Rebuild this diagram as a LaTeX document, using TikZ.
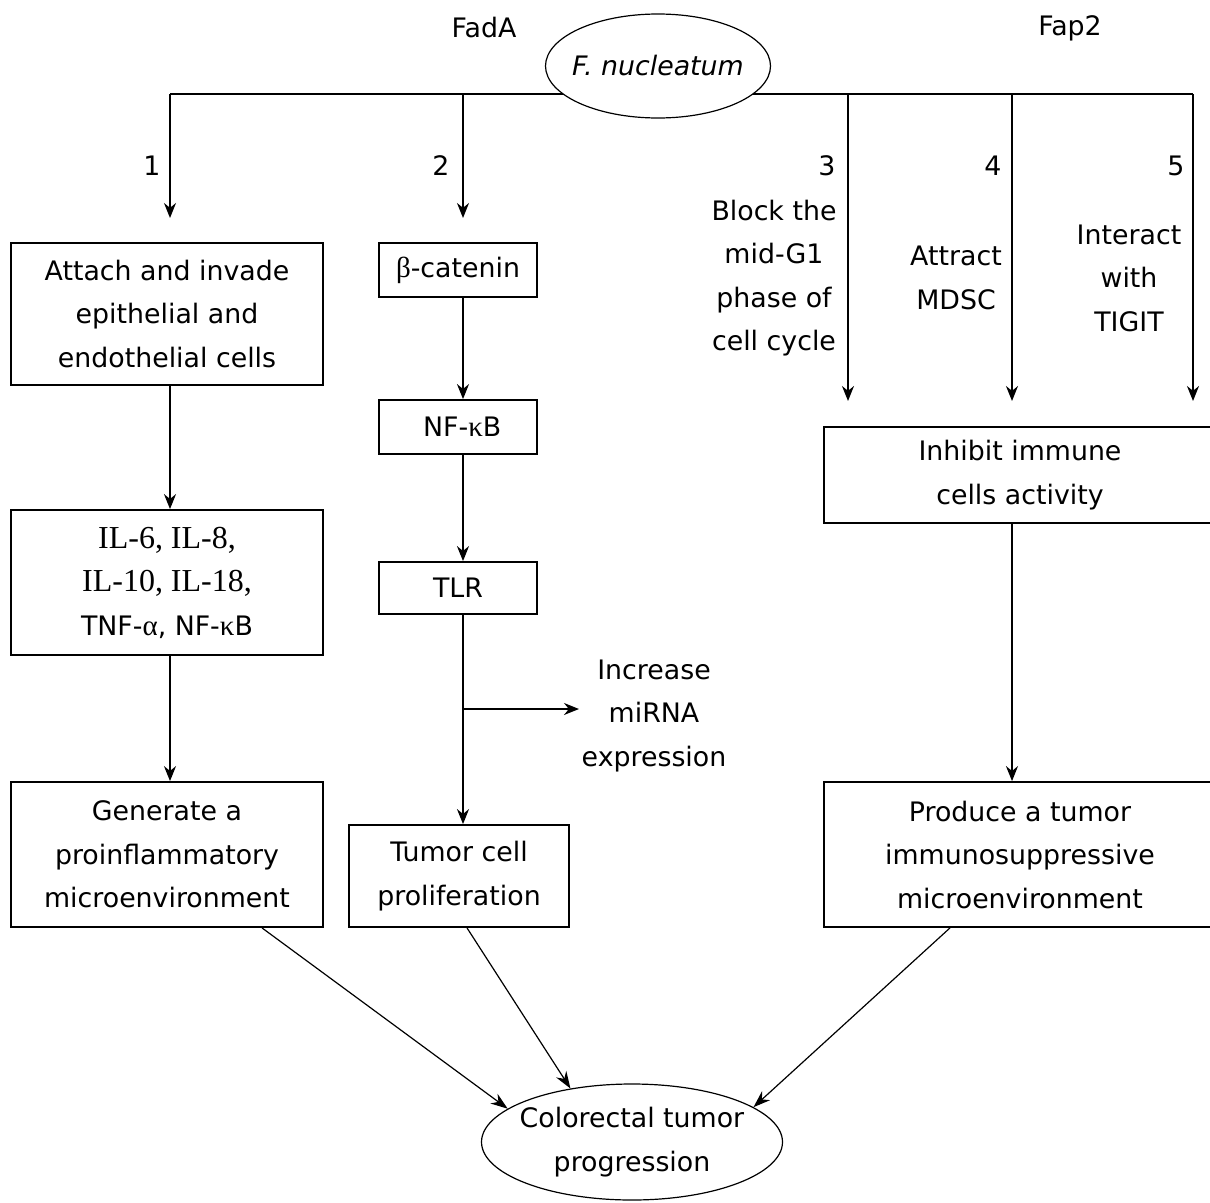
\documentclass[tikz,border=0pt]{standalone}
\usepackage{fontspec}
\setmainfont{DejaVu Sans}
\newfontfamily\grk{Liberation Serif}
\usetikzlibrary{arrows.meta,shapes.geometric,calc}
\tikzset{
  txt/.style={font=\fontsize{26.8}{43.5}\selectfont, align=center, inner sep=0pt},
  box/.style={txt, draw, line width=1.8pt, minimum width=#1},
  arr/.style={line width=1.8pt, -{Stealth[length=15pt,width=12pt]}},
  diag/.style={line width=1.2pt, -{Stealth[length=17pt,width=12pt]}},
  ln/.style={line width=1.8pt},
  ell/.style={draw, ellipse, line width=1.2pt, fill=white, inner sep=0pt}
}
\begin{document}
\begin{tikzpicture}[x=1pt,y=-1pt]
\useasboundingbox[fill=white] (0,0) rectangle (1210,1202);

% top labels
\node[txt] (fada) at (484,28) {FadA};
\node[txt] (fap2) at (1070,28) {Fap2};

% branch line
\coordinate (c1) at (170,94);
\coordinate (c2) at (463,94);
\coordinate (c3) at (848,94);
\coordinate (c4) at (1012,94);
\coordinate (c5) at (1193,94);
\draw[ln] (c1) -- (c5);
\node[ell, minimum width=225pt, minimum height=104pt] (fn) at (658,66) {};
\node[txt] (fntxt) at (fn.center) {\itshape F. nucleatum};

% arrow ends
\coordinate (e1) at (170,218);
\coordinate (e2) at (463,218);
\coordinate (e3) at (848,401);
\coordinate (e4) at (1012,401);
\coordinate (e5) at (1193,401);
\draw[arr] (c1) -- (e1);
\draw[arr] (c2) -- (e2);
\draw[arr] (c3) -- (e3);
\draw[arr] (c4) -- (e4);
\draw[arr] (c5) -- (e5);

% numbers
\node[txt] (n1) at (152,166) {1};
\node[txt] (n2) at (441,166) {2};
\node[txt] (n3) at (827,166) {3};
\node[txt] (n4) at (993,166) {4};
\node[txt] (n5) at (1176,166) {5};

\node[txt] (t3) at (774,278) {Block the\\mid-G1\\phase of\\cell cycle};
\node[txt] (t4) at (956,278) {Attract\\MDSC};
\node[txt] (t5) at (1129,278) {Interact\\with\\TIGIT};

% left column
\node[box=312pt, minimum height=142pt] (att) at (167,314) {Attach and invade\\epithelial and\\endothelial cells};
\node[box=312pt, minimum height=145pt] (il) at (167,582.5) {{\grk\fontsize{32}{43.5}\selectfont IL-6, IL-8,}\\{\grk\fontsize{32}{43.5}\selectfont IL-10, IL-18,}\\TNF-{\grk\fontsize{29}{43.5}\selectfont α}, NF-{\grk\fontsize{29}{43.5}\selectfont κ}B};
\node[box=312pt, minimum height=145pt] (gen) at (167,854.5) {Generate a\\proinflammatory\\microenvironment};
\draw[arr] (att.south -| c1) -- (il.north -| c1);
\draw[arr] (il.south -| c1) -- (gen.north -| c1);

% middle column
\node[box=158pt, minimum height=54pt] (bc) at (458,270) {{\grk\fontsize{29}{43.5}\selectfont β}-catenin};
\node[box=158pt, minimum height=54pt] (nf) at (458,427) {\ NF-{\grk\fontsize{29}{43.5}\selectfont κ}B};
\node[box=158pt, minimum height=52pt] (tlr) at (458,588) {TLR};
\node[box=220pt, minimum height=102pt] (tum) at (459,876) {Tumor cell\\proliferation};
\draw[arr] (bc.south -| c2) -- (nf.north -| c2);
\draw[arr] (nf.south -| c2) -- (tlr.north -| c2);
\draw[arr] (tlr.south -| c2) -- (tum.north -| c2);
\coordinate (br) at (463,709);
\coordinate (brend) at (579,709);
\node[txt] (mir) at (654,716) {Increase\\miRNA\\expression};
\draw[arr] (br) -- (brend);

% right column
\node[box=392pt, minimum height=96pt] (inh) at (1020,475) {Inhibit immune\\cells activity};
\node[box=392pt, minimum height=145pt] (pro) at (1020,854.5) {Produce a tumor\\immunosuppressive\\microenvironment};
\draw[arr] (inh.south -| c4) -- (pro.north -| c4);

% bottom
\node[ell, minimum width=301pt, minimum height=116pt] (crc) at (632,1142) {};
\node[txt] (crctxt) at (crc.center) {Colorectal tumor\\progression};
\draw[diag] ([xshift=95pt]gen.south) -- (crc.165);
\draw[diag] ([xshift=8pt]tum.south) -- (crc.139);
\draw[diag] ([xshift=-70pt]pro.south) -- (crc.16);
\end{tikzpicture}
\end{document}
